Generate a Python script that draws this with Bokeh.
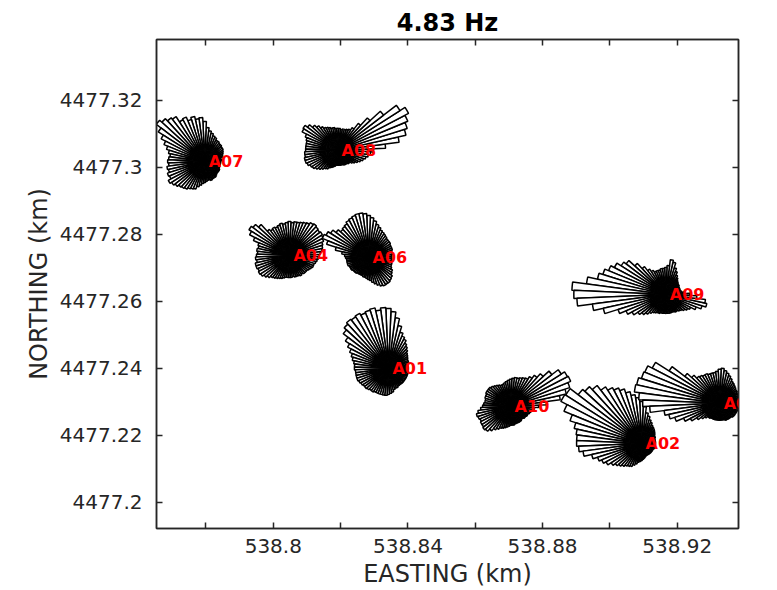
import numpy as np
from bokeh.plotting import figure
from bokeh.models import Range1d, FixedTicker, LinearAxis, ColumnDataSource, Label
from bokeh.embed import file_html
from bokeh.resources import INLINE

# ---------------- data ----------------
title_text = "4.83 Hz"
x_label = "EASTING (km)"
y_label = "NORTHING (km)"

x_tick_values = [538.8, 538.84, 538.88, 538.92]
x_tick_labels = ["538.8", "538.84", "538.88", "538.92"]
x_minor_values = [538.78, 538.82, 538.86, 538.90]
y_tick_values = [4477.2, 4477.22, 4477.24, 4477.26, 4477.28, 4477.3, 4477.32]
y_tick_labels = ["4477.2", "4477.22", "4477.24", "4477.26", "4477.28", "4477.3", "4477.32"]

stations = ["A01", "A02", "A04", "A05", "A06", "A07", "A08", "A09", "A10"]
easting = [538.8342, 538.9094, 538.8048, 538.9326, 538.8283, 538.7796, 538.8191, 538.9166, 538.8705]
northing = [4477.2400, 4477.2176, 4477.2737, 4477.2296, 4477.2731, 4477.3018, 4477.3051, 4477.2621, 4477.2287]

# rose-diagram amplitudes, 72 direction bins (centres 0,5,...,355 deg, counter-clockwise from east)
bin_width_deg = 5
rose_A01 = [20, 20, 20, 21, 21, 21, 22, 23, 24, 26, 28, 30, 33, 35, 38, 44, 51, 57,
            60, 61, 59, 62, 61, 60, 62, 61, 62, 60, 57, 51, 46, 42, 39, 37, 35, 34,
            34, 33, 33, 33, 33, 32, 31, 30, 30, 29, 28, 28, 27, 27, 27, 27, 27, 27,
            26, 25, 24, 22, 21, 21, 20, 20, 20, 20, 20, 20, 20, 20, 20, 20, 20, 20]
rose_A02 = [14, 14, 14, 14, 14, 15, 15, 16, 17, 18, 19, 20, 21, 23, 25, 28, 31, 37,
            42, 46, 49, 53, 57, 60, 63, 67, 73, 77, 80, 90, 91, 84, 75, 69, 66, 65,
            65, 63, 59, 51, 46, 43, 40, 36, 33, 31, 29, 27, 26, 25, 23, 21, 19, 18,
            17, 16, 15, 14, 13, 13, 13, 13, 13, 13, 13, 13, 13, 13, 14, 14, 14, 14]
rose_A04 = [30, 31, 33, 34, 35, 37, 38, 39, 38, 39, 40, 39, 37, 36, 35, 34, 34, 33,
            34, 33, 32, 33, 32, 31, 32, 31, 33, 42, 46, 48, 45, 39, 33, 32, 33, 32,
            33, 34, 33, 35, 35, 34, 35, 34, 32, 30, 28, 27, 26, 25, 24, 23, 22, 22,
            22, 22, 21, 22, 22, 22, 23, 22, 23, 23, 23, 24, 25, 26, 26, 27, 28, 29]
rose_A05 = [20, 20, 20, 20, 20, 20, 20, 21, 21, 22, 23, 24, 25, 27, 29, 31, 33, 35,
            34, 32, 31, 31, 31, 32, 32, 33, 34, 38, 44, 60, 76, 81, 82, 85, 86, 81,
            77, 70, 56, 52, 47, 39, 33, 27, 23, 20, 18, 18, 17, 17, 17, 17, 17, 17,
            17, 17, 17, 17, 18, 18, 18, 18, 18, 19, 19, 19, 19, 19, 20, 20, 20, 20]
rose_A06 = [23, 23, 24, 24, 25, 25, 25, 26, 26, 26, 27, 28, 29, 30, 32, 34, 37, 40,
            42, 44, 45, 45, 44, 43, 42, 40, 39, 38, 41, 45, 48, 50, 44, 34, 27, 24,
            23, 22, 22, 22, 22, 21, 21, 21, 20, 20, 20, 19, 19, 19, 19, 20, 20, 21,
            22, 23, 25, 27, 29, 31, 32, 32, 32, 31, 30, 28, 27, 25, 24, 24, 23, 23]
rose_A07 = [16, 17, 16, 18, 19, 20, 21, 22, 22, 23, 23, 24, 24, 26, 27, 29, 31, 34,
            40, 44, 43, 46, 44, 48, 47, 53, 55, 58, 61, 55, 49, 44, 40, 37, 35, 36,
            37, 36, 38, 37, 39, 38, 41, 39, 37, 35, 34, 33, 31, 30, 29, 26, 24, 22,
            21, 20, 19, 19, 20, 19, 19, 19, 18, 17, 17, 17, 17, 16, 16, 16, 16, 16]
rose_A08 = [36, 48, 62, 70, 73, 76, 80, 74, 58, 44, 34, 27, 24, 23, 22, 22, 21, 22,
            22, 22, 23, 23, 24, 25, 26, 28, 31, 34, 38, 41, 40, 35, 33, 32, 32, 32,
            32, 33, 33, 34, 34, 33, 31, 30, 28, 26, 24, 22, 21, 19, 18, 17, 16, 15,
            15, 15, 15, 15, 15, 16, 16, 16, 17, 17, 19, 21, 23, 25, 27, 29, 31, 33]
rose_A09 = [24, 18, 16, 15, 15, 15, 15, 16, 16, 17, 18, 20, 22, 25, 28, 33, 35, 29,
            27, 26, 26, 25, 25, 25, 27, 30, 35, 42, 50, 53, 58, 62, 66, 70, 80, 94,
            92, 89, 74, 64, 50, 43, 38, 33, 30, 27, 24, 22, 21, 20, 20, 19, 19, 19,
            19, 19, 19, 19, 19, 19, 20, 20, 21, 22, 24, 26, 28, 33, 38, 42, 40, 31]
rose_A10 = [28, 37, 50, 57, 62, 65, 64, 60, 52, 44, 39, 35, 32, 31, 30, 29, 29, 28,
            27, 26, 25, 24, 23, 23, 24, 25, 26, 27, 28, 28, 28, 27, 27, 26, 26, 27,
            28, 30, 33, 35, 34, 33, 34, 34, 35, 34, 31, 28, 26, 24, 23, 22, 21, 20,
            19, 19, 19, 18, 18, 18, 18, 18, 17, 17, 18, 18, 19, 19, 20, 21, 22, 24]
roses = [rose_A01, rose_A02, rose_A04, rose_A05, rose_A06, rose_A07, rose_A08, rose_A09, rose_A10]

amp_to_km = 0.000297   # drawing scale: one amplitude unit in km

# ---------------- figure ----------------
x_start, x_end = 538.7653, 538.9382
y_start, y_end = 4477.1922, 4477.3382

p = figure(width=770, height=590, output_backend="svg", toolbar_location=None,
           x_range=Range1d(x_start, x_end), y_range=Range1d(y_start, y_end),
           min_border_left=156, min_border_right=32, min_border_top=39, min_border_bottom=62)
p.background_fill_color = "white"
p.border_fill_color = "white"
p.xgrid.visible = False
p.ygrid.visible = False
p.outline_line_color = "#262626"
p.outline_line_width = 1.5

p.title.text = title_text
p.title.align = "center"
p.title.text_font = "DejaVu Sans"
p.title.text_font_size = "24px"
p.title.text_font_style = "bold"
p.title.text_color = "black"
p.title.standoff = 6

# wedges
xs, ys, rs, a0, a1 = [], [], [], [], []
half = np.deg2rad(bin_width_deg) / 2
for ex, ny, rose in zip(easting, northing, roses):
    for k, amp in enumerate(rose):
        c = np.deg2rad(k * bin_width_deg)
        xs.append(ex); ys.append(ny)
        rs.append(amp * amp_to_km)
        a0.append(c - half); a1.append(c + half)
src = ColumnDataSource(dict(x=xs, y=ys, r=rs, a0=a0, a1=a1))
p.wedge(x="x", y="y", radius="r", start_angle="a0", end_angle="a1", source=src,
        fill_color="white", line_color="black", line_width=1.5)

for name, ex, ny in zip(stations, easting, northing):
    p.add_layout(Label(x=ex, y=ny, text=name, text_color="red", text_font="DejaVu Sans",
                       text_font_style="bold", text_font_size="16px", text_align="left",
                       text_baseline="middle", x_offset=4, y_offset=0))

# axes
x_over = {v: s for v, s in zip(x_tick_values, x_tick_labels)}
y_over = {v: s for v, s in zip(y_tick_values, y_tick_labels)}

def style_axis(ax, ticker, overrides=None, show_labels=True):
    ax.ticker = ticker
    ax.axis_line_color = "#262626"
    ax.axis_line_width = 1.5
    ax.major_tick_line_color = "#262626"
    ax.minor_tick_line_color = "#262626"
    ax.major_tick_line_width = 1.5
    ax.minor_tick_line_width = 1.5
    ax.major_tick_in = 6
    ax.major_tick_out = 0
    ax.minor_tick_in = 6
    ax.minor_tick_out = 0
    ax.major_label_text_font = "DejaVu Sans"
    ax.major_label_text_color = "#262626"
    ax.axis_label_text_font = "DejaVu Sans"
    ax.axis_label_text_color = "#262626"
    ax.axis_label_text_font_style = "normal"
    if overrides:
        ax.major_label_overrides = overrides
    if not show_labels:
        ax.major_label_overrides = {v: "" for v in ticker.ticks}
        ax.major_label_text_font_size = "1px"
        ax.major_label_standoff = 0

xt = FixedTicker(ticks=x_tick_values, minor_ticks=x_minor_values)
yt = FixedTicker(ticks=y_tick_values, minor_ticks=[])

bx = p.xaxis[0]
style_axis(bx, xt, x_over)
bx.axis_label = x_label
bx.major_label_text_font_size = "20px"
bx.axis_label_text_font_size = "24px"
bx.major_label_standoff = 10
bx.axis_label_standoff = 4

ly = p.yaxis[0]
style_axis(ly, yt, y_over)
ly.axis_label = y_label
ly.major_label_text_font_size = "20px"
ly.axis_label_text_font_size = "24px"
ly.major_label_standoff = 14
ly.axis_label_standoff = 4

top_ax = LinearAxis()
style_axis(top_ax, FixedTicker(ticks=x_tick_values, minor_ticks=x_minor_values), show_labels=False)
p.add_layout(top_ax, "above")
right_ax = LinearAxis()
style_axis(right_ax, FixedTicker(ticks=y_tick_values, minor_ticks=[]), show_labels=False)
p.add_layout(right_ax, "right")

open("out.html", "w").write(file_html(p, INLINE))
